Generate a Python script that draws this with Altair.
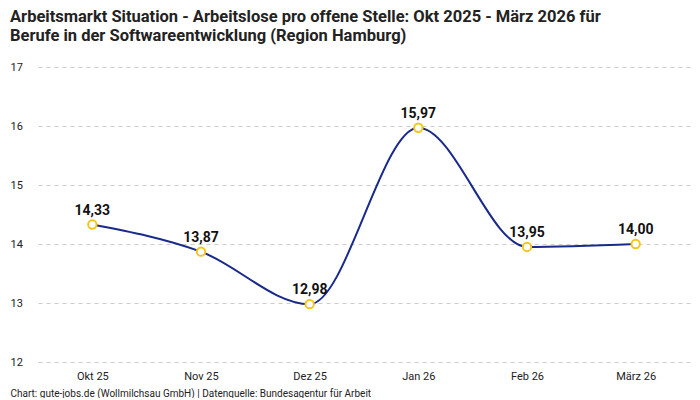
import altair as alt
import pandas as pd

monate = ['Okt 25', 'Nov 25', 'Dez 25', 'Jan 26', 'Feb 26', 'März 26']
werte = [14.33, 13.87, 12.98, 15.97, 13.95, 14.00]

df = pd.DataFrame({'monat': monate, 'wert': werte})

FONT = 'Roboto'

x = alt.X('monat:N', sort=monate,
          scale=alt.Scale(paddingInner=0, paddingOuter=0),
          axis=alt.Axis(title='Chart: gute-jobs.de (Wollmilchsau GmbH) | Datenquelle: Bundesagentur für Arbeit',
                        titleAnchor='start', titleAlign='left', titleX=-28, titleY=26,
                        titleFontSize=10, titleFontWeight='normal', titleColor='#222',
                        labelAngle=0, labelFontSize=11, labelColor='#222', labelPadding=8,
                        ticks=False, domain=False, grid=False))
y = alt.Y('wert:Q', scale=alt.Scale(domain=[12, 17], nice=False, zero=False),
          axis=alt.Axis(title=None, values=[12, 13, 14, 15, 16, 17],
                        labelAlign='left', labelPadding=28, labelFontSize=11,
                        labelColor='#222', ticks=False, domain=False,
                        gridDash=[4, 4], gridColor='#cccccc'))

base = alt.Chart(df).encode(x=x, y=y)

linie = base.mark_line(interpolate='monotone', color='#1a2a8a', strokeWidth=2)
punkte = base.mark_point(filled=True, fill='white', stroke='#f5c518',
                         strokeWidth=2, size=70, opacity=1)
text = base.transform_calculate(
    label="replace(format(datum.wert, '.2f'), '.', ',')"
).mark_text(fontWeight='bold', fontSize=14, baseline='bottom', dy=-7,
            color='#111', font=FONT).encode(text='label:N')

chart = (linie + punkte + text).properties(
    width=652, height=295,
    padding={'left': 2, 'top': 0, 'right': 2, 'bottom': 0},
    title=alt.TitleParams(
        ['Arbeitsmarkt Situation - Arbeitslose pro offene Stelle: Okt 2025 - März 2026 für',
         'Berufe in der Softwareentwicklung (Region Hamburg)'],
        anchor='start', fontSize=16.5, fontWeight='bold', color='#222',
        font=FONT, lineHeight=19, offset=17)
).configure(font=FONT).configure_view(stroke=None)

chart.save("out.html", embed_options={"renderer": "svg", "actions": False})
